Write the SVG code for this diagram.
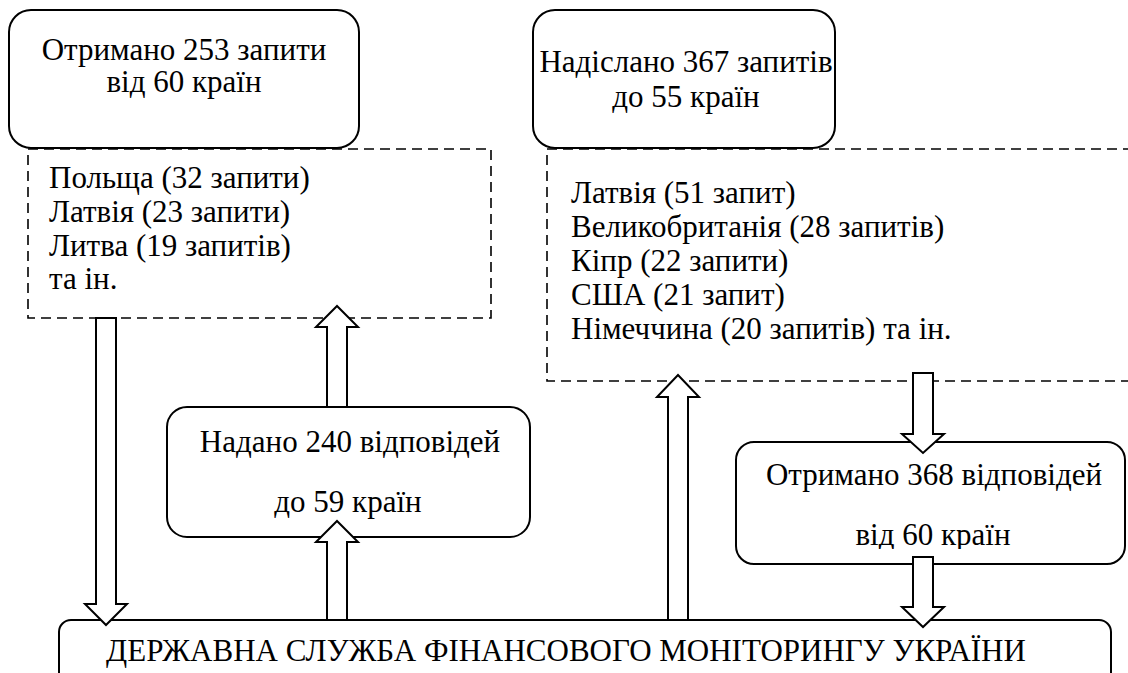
<svg xmlns="http://www.w3.org/2000/svg" width="1128" height="673" viewBox="0 0 1128 673">
<style>
.box { fill: #fff; stroke: #000; stroke-width: 2; }
.dash { fill: none; stroke: #000; stroke-width: 1.6; stroke-dasharray: 10 6; }
.arr { fill: #fff; stroke: #000; stroke-width: 2; stroke-linejoin: miter; }
</style>
<defs>
<clipPath id="clip368"><rect x="736" y="442" width="392" height="107"/></clipPath>
</defs>
<rect width="1128" height="673" fill="#fff"/>
<g id="list-received">
<rect class="dash" x="28" y="149" width="463" height="169"/>
<text x="49" y="188" style="font-family:'Liberation Serif','Times New Roman',Tinos,serif;font-size:31px">Польща (32 запити)</text>
<text x="49" y="222" style="font-family:'Liberation Serif','Times New Roman',Tinos,serif;font-size:31px">Латвія (23 запити)</text>
<text x="49" y="256" style="font-family:'Liberation Serif','Times New Roman',Tinos,serif;font-size:31px">Литва (19 запитів)</text>
<text x="49" y="289" style="font-family:'Liberation Serif','Times New Roman',Tinos,serif;font-size:31px">та ін.</text>
</g>
<g id="list-sent">
<rect class="dash" x="547" y="149" width="600" height="232"/>
<text x="571" y="203" style="font-family:'Liberation Serif','Times New Roman',Tinos,serif;font-size:31px">Латвія (51 запит)</text>
<text x="571" y="237" style="font-family:'Liberation Serif','Times New Roman',Tinos,serif;font-size:31px">Великобританія (28 запитів)</text>
<text x="571" y="271" style="font-family:'Liberation Serif','Times New Roman',Tinos,serif;font-size:31px">Кіпр (22 запити)</text>
<text x="571" y="305" style="font-family:'Liberation Serif','Times New Roman',Tinos,serif;font-size:31px">США (21 запит)</text>
<text x="571" y="339" style="font-family:'Liberation Serif','Times New Roman',Tinos,serif;font-size:31px">Німеччина (20 запитів) та ін.</text>
</g>
<g id="received-requests">
<rect class="box" x="9" y="10" width="350" height="138" rx="22"/>
<text x="184" y="60" text-anchor="middle" style="font-family:'Liberation Serif','Times New Roman',Tinos,serif;font-size:31px">Отримано 253 запити</text>
<text x="184" y="92" text-anchor="middle" style="font-family:'Liberation Serif','Times New Roman',Tinos,serif;font-size:31px">від 60 країн</text>
</g>
<g id="sent-requests">
<rect class="box" x="533" y="10" width="302" height="138" rx="22"/>
<text x="686" y="72" text-anchor="middle" style="font-family:'Liberation Serif','Times New Roman',Tinos,serif;font-size:31px">Надіслано 367 запитів</text>
<text x="686" y="107" text-anchor="middle" style="font-family:'Liberation Serif','Times New Roman',Tinos,serif;font-size:31px">до 55 країн</text>
</g>
<g id="answers-given">
<rect class="box" x="167" y="407" width="363" height="130" rx="20"/>
<text x="350" y="452" text-anchor="middle" style="font-family:'Liberation Serif','Times New Roman',Tinos,serif;font-size:31px">Надано 240 відповідей</text>
<text x="348" y="512" text-anchor="middle" style="font-family:'Liberation Serif','Times New Roman',Tinos,serif;font-size:31px">до 59 країн</text>
</g>
<g id="answers-received">
<rect class="box" x="736" y="442" width="389" height="122" rx="18"/>
<text x="934" y="485" text-anchor="middle" style="font-family:'Liberation Serif','Times New Roman',Tinos,serif;font-size:31px">Отримано 368 відповідей</text>
<text x="933" y="545" text-anchor="middle" clip-path="url(#clip368)" style="font-family:'Liberation Serif','Times New Roman',Tinos,serif;font-size:31px">від 60 країн</text>
</g>
<g id="sfmu">
<rect class="box" x="59" y="620" width="1052" height="90" rx="12"/>
<text x="566" y="661" text-anchor="middle" style="font-family:'Liberation Serif','Times New Roman',Tinos,serif;font-size:31px">ДЕРЖАВНА СЛУЖБА ФІНАНСОВОГО МОНІТОРИНГУ УКРАЇНИ</text>
</g>
<g id="connectors">
<polygon class="arr" points="96,318 116,318 116,604 127,604 106,625 85,604 96,604"/>
<polygon class="arr" points="327,407 347,407 347,327 358,327 337,306 316,327 327,327"/>
<polygon class="arr" points="327,620 347,620 347,542 358,542 337,521 316,542 327,542"/>
<polygon class="arr" points="668,620 688,620 688,397 699,397 678,375 657,397 668,397"/>
<polygon class="arr" points="913,373 933,373 933,434 944,434 923,453 902,434 913,434"/>
<polygon class="arr" points="913,557 933,557 933,607 944,607 923,627 902,607 913,607"/>
</g>
</svg>
